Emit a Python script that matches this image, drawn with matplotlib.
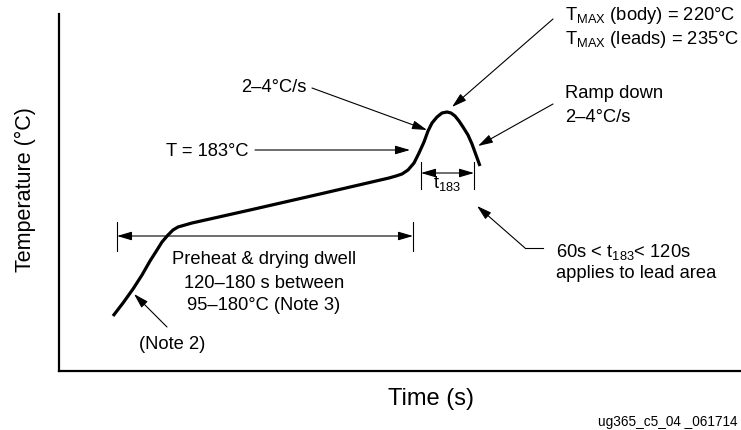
import matplotlib
matplotlib.use("Agg")
import matplotlib.pyplot as plt

# ---------- Reflow profile (schematic units, no scale on the axes) ----------
TIME = [54, 64, 74, 83, 91, 98, 103, 109, 114, 119, 126, 133, 191, 261, 330, 337,
        343, 349, 355, 360, 365, 369, 373, 378, 383, 388, 392, 396, 400, 404, 409, 413, 417, 421]
TEMP = [55, 68, 82, 96, 110, 121, 129, 136, 141, 144, 146, 148, 161, 177, 193, 195,
        197, 201, 208, 218, 229, 240, 248, 254, 258, 259, 258, 255, 250, 244, 236, 227, 216, 205]

T_LIQUIDUS_LABEL = "T = 183°C"
RAMP_UP_LABEL = "2–4°C/s"
TMAX_LABELS = [r"T$_{\mathregular{MAX}}$ (body) = 220°C", r"T$_{\mathregular{MAX}}$ (leads) = 235°C"]
RAMP_DOWN_LABELS = ["Ramp down", "2–4°C/s"]
PREHEAT_LABELS = ["Preheat & drying dwell", "120–180 s between", "95–180°C (Note 3)"]
T183_LABELS = [r"60s < t$_{\mathregular{183}}$< 120s", "applies to lead area"]

plt.rcParams["font.family"] = ["Liberation Sans", "DejaVu Sans"]
plt.rcParams["mathtext.fontset"] = "custom"
plt.rcParams["mathtext.rm"] = "Liberation Sans"
plt.rcParams["mathtext.it"] = "Liberation Sans"

W, H = 741, 431
fig = plt.figure(figsize=(W / 100, H / 100), dpi=100)
ax = fig.add_axes([59 / W, (H - 372) / H, (W - 59) / W, (372 - 15) / H])
ax.set_xlim(0, 682)
ax.set_ylim(0, 357)
for side in ("top", "right"):
    ax.spines[side].set_visible(False)
for side in ("left", "bottom"):
    ax.spines[side].set_linewidth(1.6)
ax.set_xticks([])
ax.set_yticks([])

ax.plot(TIME, TEMP, color="black", lw=2.3, solid_capstyle="butt", solid_joinstyle="round")

FS = 13.2
arrow = dict(arrowstyle="-|>,head_length=0.75,head_width=0.22", color="black",
             lw=0.8, shrinkA=0, shrinkB=0, mutation_scale=12)
dbl = dict(arrowstyle="<|-|>,head_length=0.75,head_width=0.22", color="black",
           lw=0.8, shrinkA=0, shrinkB=0, mutation_scale=12)


def arr(tip, tail, props=arrow):
    ax.annotate("", xy=tip, xytext=tail, arrowprops=props, annotation_clip=False)


# liquidus line
ax.text(189, 221, T_LIQUIDUS_LABEL, fontsize=FS, ha="right", va="center")
arr((351, 221), (196, 221))

# ramp-up rate
ax.text(248, 285, RAMP_UP_LABEL, fontsize=FS, ha="right", va="center")
arr((368, 241), (253, 283))

# peak temperatures
ax.text(506, 357, TMAX_LABELS[0], fontsize=FS, ha="left", va="center")
ax.text(506, 332, TMAX_LABELS[1], fontsize=FS, ha="left", va="center")
arr((393, 264), (494, 352))

# ramp down
ax.text(506, 278, RAMP_DOWN_LABELS[0], fontsize=FS, ha="left", va="center")
ax.text(506, 255, RAMP_DOWN_LABELS[1], fontsize=FS, ha="left", va="center")
arr((419, 225), (494, 267))

# time above liquidus
for x in (362, 415):
    ax.plot([x, x], [182, 209], color="black", lw=0.8)
arr((415, 198), (362, 198), dbl)
ax.text(374, 184, r"t$_{\mathregular{183}}$", fontsize=FS, ha="left", va="baseline")
ax.text(497, 115, T183_LABELS[0], fontsize=FS, ha="left", va="baseline")
ax.text(497, 94, T183_LABELS[1], fontsize=FS, ha="left", va="baseline")
ax.plot([484, 466], [123, 123], color="black", lw=0.8)
arr((418, 165), (466, 123))

# preheat dwell
for x in (58, 354):
    ax.plot([x, x], [120, 149], color="black", lw=0.8)
arr((58, 135), (354, 135), dbl)
for y, s in zip((112, 89, 67), PREHEAT_LABELS):
    ax.text(205, y, s, fontsize=FS, ha="center", va="center")

# initial ramp note
ax.text(113, 27, "(Note 2)", fontsize=FS, ha="center", va="center")
arr((75, 77), (108, 44))

fig.text(431 / W, 1 - 399 / H, "Time (s)", fontsize=17, ha="center", va="center")
fig.text(25 / W, 1 - 190 / H, "Temperature (°C)", fontsize=15.5, ha="center", va="center",
         rotation=90)
fig.text(737 / W, 1 - 422 / H, "ug365_c5_04 _061714", fontsize=9.8, ha="right", va="center")

fig.savefig("out.png", dpi=100)
